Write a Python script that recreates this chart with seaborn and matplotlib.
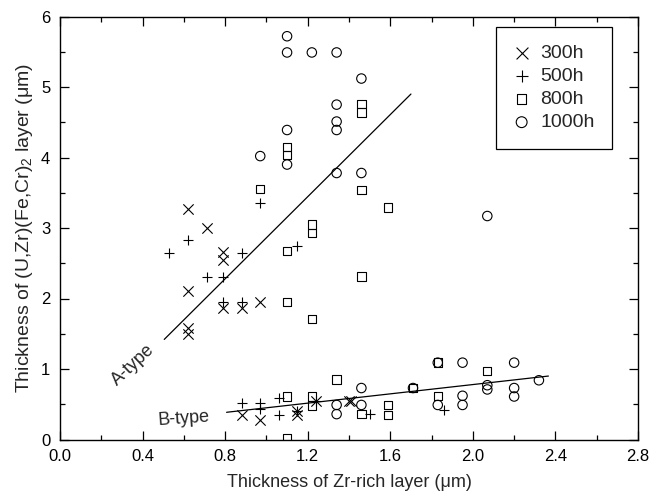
import matplotlib
matplotlib.use("Agg")
import matplotlib.pyplot as plt
import seaborn as sns
import numpy as np
import pandas as pd
from matplotlib.ticker import MultipleLocator

# ---- data ----
x_300 = [0.62, 0.71, 0.79, 0.79, 0.62, 0.79, 0.88, 0.97, 0.62, 0.62,
         0.88, 0.97, 1.15, 1.15, 1.24, 1.40, 1.41]
y_300 = [3.27, 3.00, 2.66, 2.55, 2.11, 1.86, 1.86, 1.95, 1.58, 1.50,
         0.35, 0.28, 0.40, 0.35, 0.54, 0.54, 0.54]

x_500 = [0.53, 0.62, 0.88, 0.71, 0.79, 0.79, 0.88, 0.97, 1.15,
         0.88, 0.97, 0.97, 1.06, 1.06, 1.15, 1.24, 1.50, 1.86]
y_500 = [2.65, 2.83, 2.65, 2.30, 2.30, 1.95, 1.95, 3.36, 2.74,
         0.52, 0.52, 0.43, 0.59, 0.35, 0.40, 0.54, 0.36, 0.42]

x_800 = [0.97, 1.10, 1.10, 1.10, 1.10, 1.22, 1.22, 1.22, 1.46, 1.46, 1.46, 1.46, 1.59,
         1.10, 1.10, 1.22, 1.22, 1.34, 1.46, 1.59, 1.59, 1.71, 1.83, 1.83, 2.07]
y_800 = [3.55, 4.15, 4.04, 2.67, 1.95, 3.05, 2.93, 1.71, 4.76, 4.64, 3.54, 2.31, 3.29,
         0.61, 0.02, 0.61, 0.48, 0.85, 0.36, 0.49, 0.35, 0.73, 1.09, 0.62, 0.97]

x_1000 = [1.10, 1.10, 1.22, 1.34, 1.46, 1.34, 1.34, 1.34, 1.10, 1.10, 0.97, 1.34, 1.46, 2.07,
          1.34, 1.34, 1.46, 1.46, 1.71, 1.83, 1.83, 1.95, 1.95, 1.95, 2.07, 2.07, 2.20, 2.20, 2.20, 2.32]
y_1000 = [5.72, 5.49, 5.49, 5.49, 5.12, 4.75, 4.51, 4.39, 4.39, 3.90, 4.02, 3.78, 3.78, 3.17,
          0.49, 0.36, 0.73, 0.49, 0.73, 1.09, 0.49, 1.09, 0.62, 0.49, 0.77, 0.71, 1.09, 0.73, 0.61, 0.84]

fit_a_x = [0.505, 1.70]
fit_a_y = [1.42, 4.90]
fit_b_x = [0.807, 2.366]
fit_b_y = [0.386, 0.90]

series_labels = ["300h", "500h", "800h", "1000h"]
xticks = [0.0, 0.4, 0.8, 1.2, 1.6, 2.0, 2.4, 2.8]
yticks = [0, 1, 2, 3, 4, 5, 6]

# ---- style ----
sns.set_style("ticks")
plt.rcParams["font.family"] = ["Liberation Sans", "DejaVu Sans"]
plt.rcParams["mathtext.fontset"] = "custom"
plt.rcParams["mathtext.rm"] = "Liberation Sans"
plt.rcParams["mathtext.it"] = "Liberation Sans:italic"
plt.rcParams["font.size"] = 12

fig = plt.figure(figsize=(6.49, 4.99), dpi=100)
ax = fig.add_axes([60 / 649, (499 - 439.5) / 499, 578 / 649, 423 / 499])

lw = 0.8
sns.scatterplot(x=x_300, y=y_300, marker="x", s=55, color="black",
                linewidth=lw, ax=ax, label=series_labels[0], zorder=3)
sns.scatterplot(x=x_500, y=y_500, marker="+", s=55, color="black",
                linewidth=lw, ax=ax, label=series_labels[1], zorder=3)
sns.scatterplot(x=x_800, y=y_800, marker="s", s=36, color="black",
                facecolor="none", edgecolor="black", linewidth=lw, ax=ax,
                label=series_labels[2], zorder=3)
sns.scatterplot(x=x_1000, y=y_1000, marker="o", s=46, color="black",
                facecolor="none", edgecolor="black", linewidth=lw, ax=ax,
                label=series_labels[3], zorder=3)

sns.lineplot(x=fit_a_x, y=fit_a_y, color="black", linewidth=0.9, ax=ax)
sns.lineplot(x=fit_b_x, y=fit_b_y, color="black", linewidth=0.9, ax=ax)

ax.text(0.354, 1.057, "A-type", rotation=43, ha="center", va="center",
        rotation_mode="anchor", fontsize=13)
ax.text(0.60, 0.29, "B-type", rotation=4, ha="center", va="center",
        rotation_mode="anchor", fontsize=13)

ax.set_xlim(0, 2.8)
ax.set_ylim(0, 6)
ax.set_xticks(xticks)
ax.set_xticklabels([f"{t:.1f}" for t in xticks])
ax.set_yticks(yticks)
ax.set_yticklabels([str(t) for t in yticks])
ax.xaxis.set_minor_locator(MultipleLocator(0.2))
ax.yaxis.set_minor_locator(MultipleLocator(0.5))
ax.tick_params(which="both", direction="in", top=True, right=True,
               labelsize=12, width=0.9, colors="black")
ax.tick_params(which="major", length=6.5, pad=7)
ax.tick_params(which="minor", length=3.6)
for sp in ax.spines.values():
    sp.set_visible(True)
    sp.set_linewidth(1.0)
    sp.set_color("black")

ax.set_xlabel("Thickness of Zr-rich layer (μm)", fontsize=13, labelpad=7)
ax.set_ylabel("Thickness of (U,Zr)(Fe,Cr)$_2$ layer (μm)", fontsize=14, labelpad=4)

leg = ax.legend(loc="upper right", bbox_to_anchor=(612 / 649, (499 - 27) / 499),
                bbox_transform=fig.transFigure, frameon=True, fancybox=False,
                edgecolor="black", framealpha=1, fontsize=14, handlelength=0.8,
                handletextpad=0.55, labelspacing=0.28, borderpad=0.9,
                borderaxespad=0, markerscale=1.15)
leg.get_frame().set_linewidth(0.9)

fig.savefig("out.png", dpi=100)
